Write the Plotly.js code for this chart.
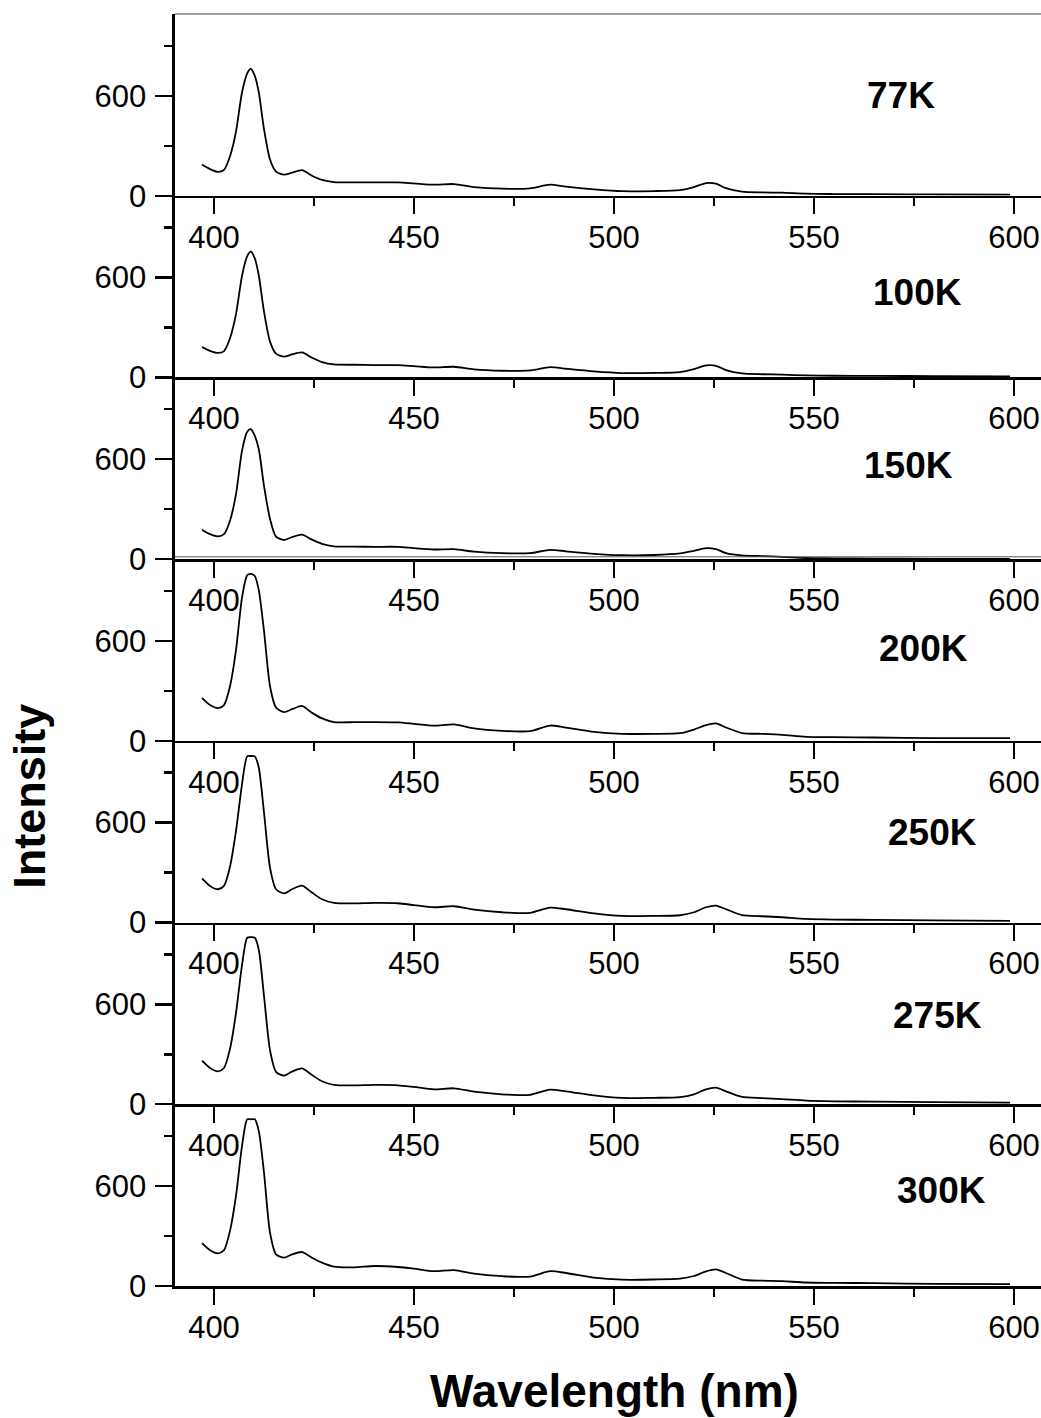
<!DOCTYPE html>
<html>
<head>
<meta charset="utf-8">
<script src="https://cdn.plot.ly/plotly-3.0.1.min.js"></script>
<style>html,body{margin:0;padding:0;background:#fff;}#chart{width:1041px;height:1418px;}</style>
</head>
<body>
<div id="chart"></div>
<script>
const wavelength = [397, 399, 401, 402.5, 404, 405.5, 407, 408.3, 409.2, 410.2, 411.2, 412.5, 414, 415.5, 417.5, 419.5, 422, 424.5, 427, 430, 435, 440, 446, 450, 455, 460, 465, 472, 479, 484, 488, 495, 502, 510, 516.5, 520, 523, 525.5, 528, 532, 537, 542, 548, 555, 565, 580, 599];

const temperatures = ["77K", "100K", "150K", "200K", "250K", "275K", "300K"];

const i77K  = [187,160,143,155,237,385,620,735,762,720,620,400,217,145,127,138,153,120,95,82,80,80,80,74,66,70,52,42,44,66,54,38,27,28,34,52,76,72,45,25,20,18,12,10,9,8,6];
const i100K = [182,160,147,158,235,380,610,728,755,715,612,395,215,143,125,138,150,118,92,78,76,74,74,68,60,64,48,40,42,62,52,36,26,27,32,50,72,70,44,24,19,17,12,10,9,8,6];
const i150K = [177,150,137,150,231,390,650,765,781,740,660,440,242,135,115,132,147,117,92,77,75,74,74,66,58,60,45,36,36,56,47,32,24,25,34,50,66,60,36,22,18,14,7,5,3,2,1];
const i200K = [258,215,197,215,328,545,860,995,1003,990,905,660,328,200,172,190,210,168,135,113,112,113,111,102,91,99,75,60,58,92,80,54,42,42,46,68,95,105,80,47,42,36,24,22,20,16,16];
const i250K = [265,220,200,220,335,550,830,998,1000,998,930,660,330,200,175,200,222,180,140,118,115,118,116,105,92,98,78,62,58,90,80,55,40,40,44,62,92,102,80,45,38,32,22,18,16,13,10];
const i275K = [262,218,198,218,333,548,835,1000,1003,1000,928,650,325,195,172,196,215,176,138,116,113,116,114,104,90,96,76,60,57,88,78,53,38,39,43,60,90,100,78,44,37,31,22,18,16,13,10];
const i300K = [257,215,196,215,331,542,840,1001,1001,1001,930,680,321,190,170,190,204,170,140,116,112,120,114,104,89,95,74,59,56,89,78,50,38,39,44,60,88,100,78,39,32,29,21,19,17,13,11];

const intensities = [i77K, i100K, i150K, i200K, i250K, i275K, i300K];
const labelX = [571.7, 575.9, 573.7, 577.3, 579.5, 580.8, 581.8];
const labelY = [603, 510, 560, 556, 540, 534, 573];

const xTickVals = [400, 450, 500, 550, 600];
const xTickText = ["400", "450", "500", "550", "600"];
const yTickVals = [0, 600];
const yTickText = ["0", "600"];

const FONT = "Liberation Sans, Arial, Helvetica, sans-serif";
const N = temperatures.length;
const traces = [];
const layout = {
  width: 1041, height: 1418,
  margin: {l: 175, r: 0, t: 14, b: 131.5},
  paper_bgcolor: "#fff", plot_bgcolor: "#fff",
  showlegend: false,
  font: {family: FONT, color: "#000", size: 31},
  annotations: [], shapes: []
};

for (let i = 0; i < N; i++) {
  const s = i === 0 ? "" : String(i + 1);
  traces.push({
    x: wavelength, y: intensities[i],
    xaxis: "x" + s, yaxis: "y" + s,
    type: "scatter", mode: "lines",
    line: {color: "#000", width: 1.8, shape: "spline", smoothing: 0.7},
    hoverinfo: "skip"
  });
  const lo = (N - 1 - i) / N, hi = (N - i) / N;
  layout["xaxis" + s] = {
    domain: [0, 1], anchor: "y" + s,
    range: [390.25, 606.75],
    showgrid: false, zeroline: false,
    showline: true, linecolor: "#000", linewidth: 2.6,
    ticks: "outside", ticklen: 16, tickwidth: 2.4, tickcolor: "#000",
    tickmode: "array", tickvals: xTickVals, ticktext: xTickText,
    minor: {tickmode: "array", tickvals: [425, 475, 525, 575], ticks: "outside", ticklen: 8, tickwidth: 2.4, tickcolor: "#000"},
    tickfont: {family: FONT, size: 31, color: "#000"},
    ticklabelstandoff: -4,
    fixedrange: true
  };
  layout["yaxis" + s] = {
    domain: [lo, hi], anchor: "x" + s,
    range: [0, 1091],
    showgrid: false, zeroline: false,
    showline: true, linecolor: "#000", linewidth: 2.6,
    ticks: "outside", ticklen: 17, tickwidth: 2.4, tickcolor: "#000",
    tickmode: "array", tickvals: yTickVals, ticktext: yTickText,
    minor: {tickmode: "array", tickvals: [300, 900], ticks: "outside", ticklen: 8, tickwidth: 2.4, tickcolor: "#000"},
    tickfont: {family: FONT, size: 31, color: "#000"},
    ticklabelstandoff: 3,
    fixedrange: true
  };
  layout.annotations.push({
    x: labelX[i], y: labelY[i], xref: "x" + s, yref: "y" + s,
    text: temperatures[i], showarrow: false,
    xanchor: "center", yanchor: "middle",
    font: {family: FONT, size: 37, color: "#000", weight: "bold"}
  });
}

// grey top border of the first panel
layout.shapes.push({type: "line", xref: "paper", yref: "paper", x0: 0, x1: 1, y0: 1, y1: 1,
  line: {color: "#808080", width: 1.5}});
// thin shadow line above the 150K baseline
layout.shapes.push({type: "line", xref: "paper", yref: "y3", x0: 0, x1: 1, y0: 14, y1: 14,
  line: {color: "#555", width: 1}});

layout.annotations.push({
  xref: "paper", yref: "paper", x: -0.1674, y: 0.3847,
  text: "<b>Intensity</b>", textangle: -90, showarrow: false,
  xanchor: "center", yanchor: "middle",
  font: {family: FONT, size: 45, color: "#000"}
});
layout.annotations.push({
  xref: "paper", yref: "paper", x: 0.507, y: -0.0829,
  text: "<b>Wavelength (nm)</b>", showarrow: false,
  xanchor: "center", yanchor: "middle",
  font: {family: FONT, size: 46, color: "#000"}
});

Plotly.newPlot("chart", traces, layout, {displayModeBar: false, staticPlot: true});
</script>
</body>
</html>
